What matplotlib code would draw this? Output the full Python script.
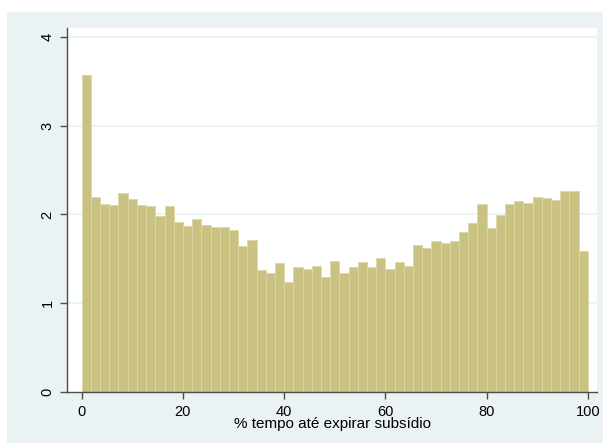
import numpy as np
import matplotlib
matplotlib.use("Agg")
import matplotlib.pyplot as plt
from matplotlib.patches import Rectangle

plt.rcParams["font.family"] = ["Liberation Sans", "DejaVu Sans"]

# histogram: 55 bins over 0..100
bin_start = 0.0
bin_end = 100.0
density = [3.57, 2.20, 2.12, 2.11, 2.24, 2.17, 2.11, 2.09, 1.98, 2.09,
           1.92, 1.87, 1.95, 1.88, 1.86, 1.86, 1.82, 1.65, 1.71, 1.37,
           1.34, 1.45, 1.24, 1.41, 1.39, 1.42, 1.30, 1.47, 1.34, 1.41,
           1.46, 1.41, 1.51, 1.38, 1.46, 1.42, 1.66, 1.62, 1.70, 1.68,
           1.70, 1.80, 1.90, 2.12, 1.85, 1.99, 2.12, 2.15, 2.13, 2.20,
           2.19, 2.16, 2.26, 2.26, 1.59]
edges = np.linspace(bin_start, bin_end, len(density) + 1)
xticks = [0, 20, 40, 60, 80, 100]
yticks = [0, 1, 2, 3, 4]
xlabel = "% tempo até expirar subsídio"

BG = "#EAF2F3"
BAR = "#CAC283"
EDGE = "#DDD7A6"
AXC = "#4D4D4D"

fig = plt.figure(figsize=(6.03, 4.43), dpi=100)
fig.patch.set_facecolor("white")
# light outer graph region (Stata s2color style)
fig.patches.append(Rectangle((7 / 603, 0), 1 - 7 / 603, 1 - 12 / 443,
                             transform=fig.transFigure, fc=BG, ec="none",
                             zorder=-10))

ax = fig.add_axes([67 / 603, 1 - 392 / 443, (597 - 67) / 603, (392 - 28) / 443])
ax.set_zorder(5)
ax.set_facecolor("white")

ax.bar(edges[:-1], density, width=np.diff(edges), align="edge",
       color=BAR, edgecolor=EDGE, linewidth=0.6, zorder=2)

for y in yticks[1:]:
    ax.axhline(y, color=BG, lw=1.2, zorder=1)

ax.set_xlim(-2.9, 101.8)
ax.set_ylim(0, 4.10)
ax.set_xticks(xticks)
ax.set_yticks(yticks)
ax.set_yticklabels([str(v) for v in yticks], rotation=90, va="center")
ax.tick_params(axis="both", labelsize=10.5, color=AXC, length=5, width=1,
               labelcolor="black", pad=4)

for s in ("top", "right"):
    ax.spines[s].set_visible(False)
for s in ("left", "bottom"):
    ax.spines[s].set_color(AXC)
    ax.spines[s].set_linewidth(1.0)

ax.set_xlabel(xlabel, fontsize=11, labelpad=-1)

fig.savefig("out.png", dpi=100)
